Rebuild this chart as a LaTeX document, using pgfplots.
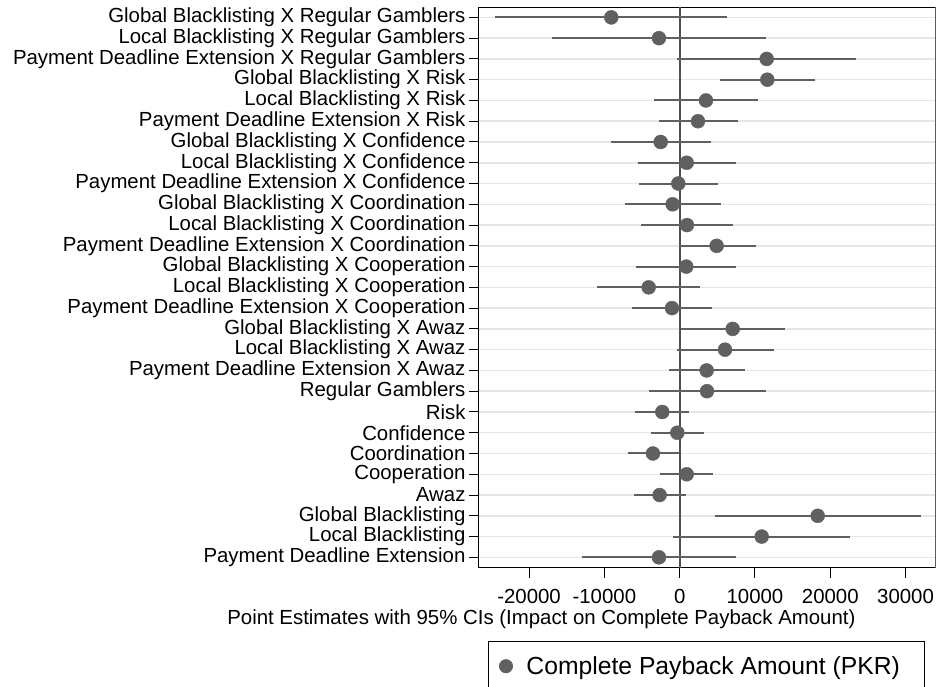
\documentclass[border=0pt]{standalone}
\usepackage{pgfplots}
\pgfplotsset{compat=1.18}
\usepackage{pgfplotstable}
\usepackage{fontspec}
\setmainfont{Liberation Sans}
\definecolor{mk}{RGB}{96,96,96}
\definecolor{gl}{RGB}{230,230,230}
\definecolor{zl}{RGB}{80,80,80}
\definecolor{re}{RGB}{140,140,140}

\pgfplotstableread{
row est lo hi
1 -9080 -24530 6280
2 -2750 -16960 11500
3 11550 -400 23450
4 11640 5310 18010
5 3490 -3450 10440
6 2430 -2750 7700
7 -2520 -9160 4200
8 930 -5580 7520
9 -180 -5360 5090
10 -930 -7220 5440
11 970 -5140 7080
12 4910 -130 10090
13 880 -5840 7480
14 -4120 -10940 2700
15 -1020 -6290 4330
16 7040 130 13980
17 6020 -400 12480
18 3580 -1460 8630
19 3630 -4080 11460
20 -2310 -5900 1280
21 -310 -3850 3230
22 -3550 -6910 -50
23 930 -2570 4380
24 -2660 -6110 790
25 18330 4690 32050
26 10890 -930 22660
27 -2750 -13020 7520
}\data

\begin{document}
\begin{tikzpicture}[x=1pt,y=1pt]
\begin{axis}[
  at={(0pt,0pt)}, anchor=south west,
  width=456.7pt, height=560.7pt, scale only axis,
  xmin=-26650, xmax=34000,
  ymin=0.5, ymax=27.5, y dir=reverse,
  ytick={1,...,27},
  yticklabels={Global Blacklisting X Regular Gamblers,
    Local Blacklisting X Regular Gamblers,
    Payment Deadline Extension X Regular Gamblers,
    Global Blacklisting X Risk,
    Local Blacklisting X Risk,
    Payment Deadline Extension X Risk,
    Global Blacklisting X Confidence,
    Local Blacklisting X Confidence,
    Payment Deadline Extension X Confidence,
    Global Blacklisting X Coordination,
    Local Blacklisting X Coordination,
    Payment Deadline Extension X Coordination,
    Global Blacklisting X Cooperation,
    Local Blacklisting X Cooperation,
    Payment Deadline Extension X Cooperation,
    Global Blacklisting X Awaz,
    Local Blacklisting X Awaz,
    Payment Deadline Extension X Awaz,
    Regular Gamblers, Risk, Confidence, Coordination, Cooperation, Awaz,
    Global Blacklisting, Local Blacklisting, Payment Deadline Extension},
  xtick={-20000,-10000,0,10000,20000,30000},
  xticklabels={-20000,-10000,0,10000,20000,30000},
  scaled x ticks=false,
  tick align=outside, major tick length=10pt,
  xtick pos=bottom, ytick pos=left,
  tick style={black, line width=1pt},
  ymajorgrids, major grid style={gl, line width=1.5pt},
  axis line style={black, line width=1pt},
  ticklabel style={font=\fontsize{20.4}{22}\selectfont},
  xticklabel style={yshift=-8pt},
  xlabel={Point Estimates with 95\% CIs (Impact on Complete Payback Amount)},
  xlabel style={font=\fontsize{20.4}{22}\selectfont, at={(axis description cs:0.13,0)}, anchor=center, yshift=-51.3pt, xshift=3pt},
  legend style={at={(axis description cs:0.0197,-0.1307)}, anchor=north west,
    draw=black, line width=1pt, inner xsep=11pt, inner ysep=13pt,
    font=\fontsize{24.7}{28}\selectfont,
    /tikz/every odd column/.append style={column sep=12pt}},
  legend image post style={mark size=6.5pt},
]
\addplot[zl, line width=2pt, forget plot] coordinates {(0,0.5) (0,27.5)};
\addplot[only marks, mark=*, mark size=7pt, mark options={fill=mk, draw=mk}, mk,
  error bars/.cd, x dir=both, x explicit, error mark=none,
  error bar style={line width=2pt, mk}]
  table[x=est, y=row,
    x error plus expr=\thisrow{hi}-\thisrow{est},
    x error minus expr=\thisrow{est}-\thisrow{lo}] {\data};
\addlegendentry{\makebox[385pt][l]{Complete Payback Amount (PKR)}}
\draw[re, line width=1pt] (rel axis cs:1,0) -- (rel axis cs:1,1);
\end{axis}
\pgfresetboundingbox
\path[use as bounding box] (-479,-118.3) rectangle (457,567.7);
\end{tikzpicture}
\end{document}
